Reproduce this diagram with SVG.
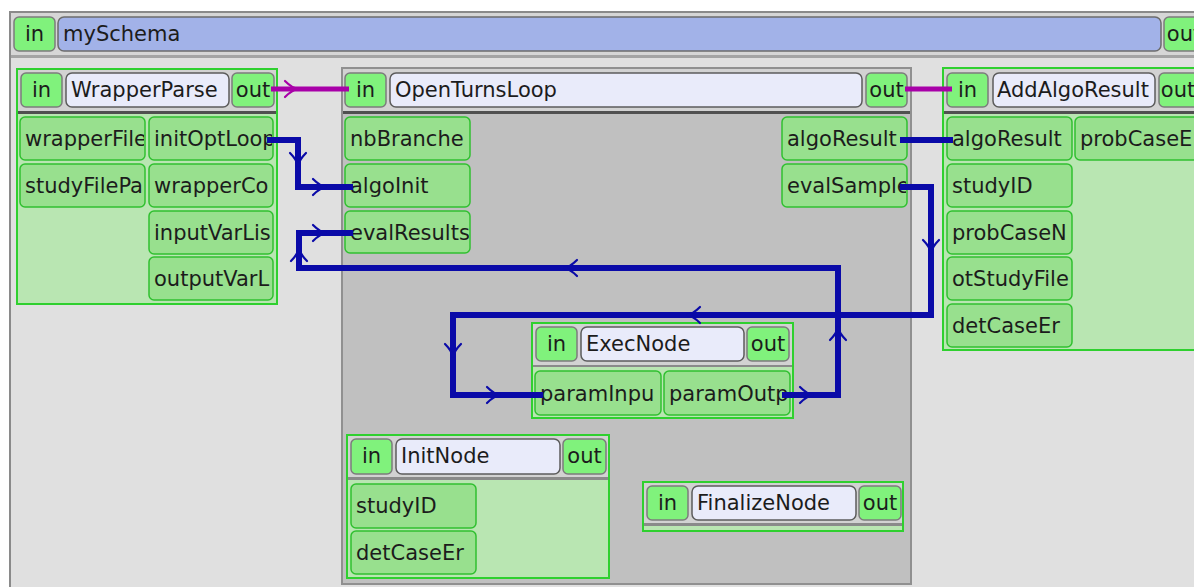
<svg xmlns="http://www.w3.org/2000/svg" xmlns:xlink="http://www.w3.org/1999/xlink" width="1194" height="587" viewBox="0 0 1194 587">
  <defs>
    <style>
      .txt{font-family:"DejaVu Sans","Liberation Sans",sans-serif;font-size:21px;fill:#1c1c1c}
      .mid{text-anchor:middle}
      .hport{fill:#80f27c;stroke:#7c7c7c;stroke-width:1.5}
      .title{fill:#e9ebfa;stroke:#5c5c5c;stroke-width:1.5}
      .dport{fill:#98e08e;stroke:#30c030;stroke-width:1.5}
      .frame{fill:#d2d2d2;stroke:#2fd02f;stroke-width:2}
      .bloc{fill:#d2d2d2;stroke:#909090;stroke-width:2}
      .body{fill:#b9e6b2}
      .sep{fill:#505050}
      .sep2{fill:#8a8a8a}
      .link{fill:none;stroke:#0a0aa8;stroke-width:6;stroke-linejoin:miter}
      .ctl{fill:none;stroke:#a800a8;stroke-width:5}
      .arr{fill:none;stroke:#0a0aa8;stroke-width:2.2;stroke-linecap:round}
      .arrc{fill:none;stroke:#a800a8;stroke-width:2.2;stroke-linecap:round}
    </style>
    <!-- arrowhead pointing along +x, tip at origin -->
    <path id="chev" d="M-10,-8 Q-3,-1 3,0 Q-3,1 -10,8"/>
    <!-- clip columns for truncated port labels -->
    <clipPath id="cWPL"><rect x="20" y="110" width="124" height="200"/></clipPath>
    <clipPath id="cWPR"><rect x="149" y="110" width="123" height="200"/></clipPath>
    <clipPath id="cOTL"><rect x="345" y="110" width="124" height="150"/></clipPath>
    <clipPath id="cOTR"><rect x="782" y="110" width="124" height="100"/></clipPath>
    <clipPath id="cEXL"><rect x="535" y="368" width="125" height="50"/></clipPath>
    <clipPath id="cEXR"><rect x="664" y="368" width="125" height="50"/></clipPath>
    <clipPath id="cAAL"><rect x="947" y="110" width="124" height="240"/></clipPath>
  </defs>

  <rect x="0" y="0" width="1194" height="587" fill="#ffffff"/>

  <!-- top-level schema -->
  <g id="schema">
    <rect x="10" y="12" width="1200" height="600" fill="#e0e0e0" stroke="#8a8a8a" stroke-width="2"/>
    <rect x="11" y="13" width="1190" height="42" fill="#d6d6d6"/>
    <rect x="11" y="55" width="1190" height="3" fill="#a4a4a4"/>
    <rect x="14" y="17" width="41" height="34" rx="5" class="hport"/>
    <text x="34.5" y="41" class="txt mid">in</text>
    <rect x="58" y="17" width="1103" height="34" rx="6" fill="#a2b2e8" stroke="#6c6c6c" stroke-width="1.5"/>
    <text x="63" y="41" class="txt">mySchema</text>
    <rect x="1164" y="17" width="40" height="34" rx="5" class="hport"/>
    <text x="1184" y="41" class="txt mid">out</text>
  </g>

  <!-- WrapperParse -->
  <g id="node-wrapperparse">
    <rect x="17" y="69" width="260" height="235" class="frame"/>
    <rect x="18" y="114" width="258" height="189" class="body"/>
    <rect x="18" y="111" width="258" height="3" class="sep"/>
    <rect x="21" y="73" width="41" height="34" rx="5" class="hport"/>
    <text x="41.5" y="97" class="txt mid">in</text>
    <rect x="66" y="73" width="163" height="34" rx="6" class="title"/>
    <text x="71" y="97" class="txt">WrapperParse</text>
    <rect x="232" y="73" width="42" height="34" rx="5" class="hport"/>
    <text x="253" y="97" class="txt mid">out</text>
    <rect x="20" y="117" width="125" height="43" rx="5" class="dport"/>
    <rect x="20" y="164" width="125" height="43" rx="5" class="dport"/>
    <rect x="149" y="117" width="124" height="43" rx="5" class="dport"/>
    <rect x="149" y="164" width="124" height="43" rx="5" class="dport"/>
    <rect x="149" y="211" width="124" height="43" rx="5" class="dport"/>
    <rect x="149" y="257" width="124" height="43" rx="5" class="dport"/>
    <g clip-path="url(#cWPL)">
      <text x="25" y="146" class="txt">wrapperFile</text>
      <text x="25" y="193" class="txt">studyFilePa</text>
    </g>
    <g clip-path="url(#cWPR)">
      <text x="154" y="146" class="txt">initOptLoop</text>
      <text x="154" y="193" class="txt">wrapperCo</text>
      <text x="154" y="240" class="txt">inputVarLis</text>
      <text x="154" y="286" class="txt">outputVarL</text>
    </g>
  </g>

  <!-- OpenTurnsLoop -->
  <g id="node-openturnsloop">
    <rect x="342" y="68" width="569" height="516" class="bloc"/>
    <rect x="343" y="114" width="567" height="469" fill="#c0c0c0"/>
    <rect x="343" y="111" width="567" height="3" class="sep"/>
    <rect x="345" y="73" width="41" height="34" rx="5" class="hport"/>
    <text x="365.5" y="97" class="txt mid">in</text>
    <rect x="390" y="73" width="472" height="34" rx="6" class="title"/>
    <text x="395" y="97" class="txt">OpenTurnsLoop</text>
    <rect x="866" y="73" width="41" height="34" rx="5" class="hport"/>
    <text x="886.5" y="97" class="txt mid">out</text>
    <rect x="345" y="117" width="125" height="43" rx="5" class="dport"/>
    <rect x="345" y="164" width="125" height="43" rx="5" class="dport"/>
    <rect x="345" y="211" width="125" height="42" rx="5" class="dport"/>
    <rect x="782" y="117" width="125" height="43" rx="5" class="dport"/>
    <rect x="782" y="164" width="125" height="43" rx="5" class="dport"/>
    <g clip-path="url(#cOTL)">
      <text x="350" y="146" class="txt">nbBranche</text>
      <text x="350" y="193" class="txt">algoInit</text>
      <text x="350" y="240" class="txt">evalResults</text>
    </g>
    <g clip-path="url(#cOTR)">
      <text x="787" y="146" class="txt">algoResult</text>
      <text x="787" y="193" class="txt">evalSample</text>
    </g>
  </g>

  <!-- ExecNode -->
  <g id="node-execnode">
    <rect x="532" y="323" width="261" height="95" class="frame"/>
    <rect x="533" y="367" width="259" height="50" class="body"/>
    <rect x="533" y="365" width="259" height="2" class="sep2"/>
    <rect x="536" y="327" width="41" height="34" rx="5" class="hport"/>
    <text x="556.5" y="351" class="txt mid">in</text>
    <rect x="581" y="327" width="163" height="34" rx="6" class="title"/>
    <text x="586" y="351" class="txt">ExecNode</text>
    <rect x="747" y="327" width="42" height="34" rx="5" class="hport"/>
    <text x="768" y="351" class="txt mid">out</text>
    <rect x="535" y="371" width="126" height="44" rx="5" class="dport"/>
    <rect x="664" y="371" width="126" height="44" rx="5" class="dport"/>
    <g clip-path="url(#cEXL)">
      <text x="540" y="401" class="txt">paramInpu</text>
    </g>
    <g clip-path="url(#cEXR)">
      <text x="669" y="401" class="txt">paramOutp</text>
    </g>
  </g>

  <!-- InitNode -->
  <g id="node-initnode">
    <rect x="347" y="435" width="262" height="143" class="frame"/>
    <rect x="348" y="480" width="260" height="97" class="body"/>
    <rect x="348" y="477" width="260" height="3" class="sep2"/>
    <rect x="351" y="439" width="41" height="35" rx="5" class="hport"/>
    <text x="371.5" y="463" class="txt mid">in</text>
    <rect x="396" y="439" width="164" height="35" rx="6" class="title"/>
    <text x="401" y="463" class="txt">InitNode</text>
    <rect x="563" y="439" width="43" height="35" rx="5" class="hport"/>
    <text x="584.5" y="463" class="txt mid">out</text>
    <rect x="351" y="484" width="125" height="44" rx="5" class="dport"/>
    <rect x="351" y="531" width="125" height="43" rx="5" class="dport"/>
    <text x="356" y="513" class="txt">studyID</text>
    <text x="356" y="560" class="txt">detCaseEr</text>
  </g>

  <!-- FinalizeNode -->
  <g id="node-finalizenode">
    <rect x="643" y="482" width="260" height="49" class="frame"/>
    <rect x="644" y="526" width="258" height="4" class="body"/>
    <rect x="644" y="523" width="258" height="3" class="sep2"/>
    <rect x="647" y="486" width="41" height="34" rx="5" class="hport"/>
    <text x="667.5" y="510" class="txt mid">in</text>
    <rect x="692" y="486" width="164" height="34" rx="6" class="title"/>
    <text x="697" y="510" class="txt">FinalizeNode</text>
    <rect x="859" y="486" width="42" height="34" rx="5" class="hport"/>
    <text x="880" y="510" class="txt mid">out</text>
  </g>

  <!-- AddAlgoResult -->
  <g id="node-addalgoresult">
    <rect x="943" y="68" width="270" height="282" class="frame"/>
    <rect x="944" y="114" width="268" height="235" class="body"/>
    <rect x="944" y="111" width="268" height="3" class="sep"/>
    <rect x="947" y="73" width="41" height="34" rx="5" class="hport"/>
    <text x="967.5" y="97" class="txt mid">in</text>
    <rect x="993" y="73" width="162" height="34" rx="6" class="title"/>
    <text x="997" y="97" class="txt">AddAlgoResult</text>
    <rect x="1159" y="73" width="40" height="34" rx="5" class="hport"/>
    <text x="1178" y="97" class="txt mid">out</text>
    <rect x="947" y="117" width="125" height="43" rx="5" class="dport"/>
    <rect x="947" y="164" width="125" height="43" rx="5" class="dport"/>
    <rect x="947" y="211" width="125" height="43" rx="5" class="dport"/>
    <rect x="947" y="257" width="125" height="43" rx="5" class="dport"/>
    <rect x="947" y="304" width="125" height="43" rx="5" class="dport"/>
    <rect x="1075" y="117" width="130" height="43" rx="5" class="dport"/>
    <g clip-path="url(#cAAL)">
      <text x="952" y="146" class="txt">algoResult</text>
      <text x="952" y="193" class="txt">studyID</text>
      <text x="952" y="240" class="txt">probCaseN</text>
      <text x="952" y="286" class="txt">otStudyFile</text>
      <text x="952" y="333" class="txt">detCaseEr</text>
    </g>
    <text x="1080" y="146" class="txt">probCaseE</text>
  </g>

  <!-- links -->
  <g id="connectors">
    <!-- control flow -->
    <path d="M271,89 H349" class="ctl"/>
    <use xlink:href="#chev" class="arrc" transform="translate(295,89)"/>
    <path d="M905,89 H952" class="ctl"/>

    <!-- initOptLoop -> algoInit -->
    <path d="M267,140 H298 V187 H353" class="link"/>
    <use xlink:href="#chev" class="arr" transform="translate(298,163) rotate(90)"/>
    <use xlink:href="#chev" class="arr" transform="translate(323,187)"/>

    <!-- evalSample -> paramInput -->
    <path d="M900,187 H931 V315 H453 V395 H543" class="link"/>
    <use xlink:href="#chev" class="arr" transform="translate(931,250) rotate(90)"/>
    <use xlink:href="#chev" class="arr" transform="translate(690,315) rotate(180)"/>
    <use xlink:href="#chev" class="arr" transform="translate(453,354) rotate(90)"/>
    <use xlink:href="#chev" class="arr" transform="translate(497,395)"/>

    <!-- paramOutput -> evalResults -->
    <path d="M782,395 H838 V268 H299 V233 H353" class="link"/>
    <use xlink:href="#chev" class="arr" transform="translate(810,395)"/>
    <use xlink:href="#chev" class="arr" transform="translate(838,330) rotate(-90)"/>
    <use xlink:href="#chev" class="arr" transform="translate(567,268) rotate(180)"/>
    <use xlink:href="#chev" class="arr" transform="translate(299,251) rotate(-90)"/>
    <use xlink:href="#chev" class="arr" transform="translate(323,233)"/>

    <!-- algoResult -> algoResult -->
    <path d="M900,140 H953" class="link"/>
  </g>
</svg>
